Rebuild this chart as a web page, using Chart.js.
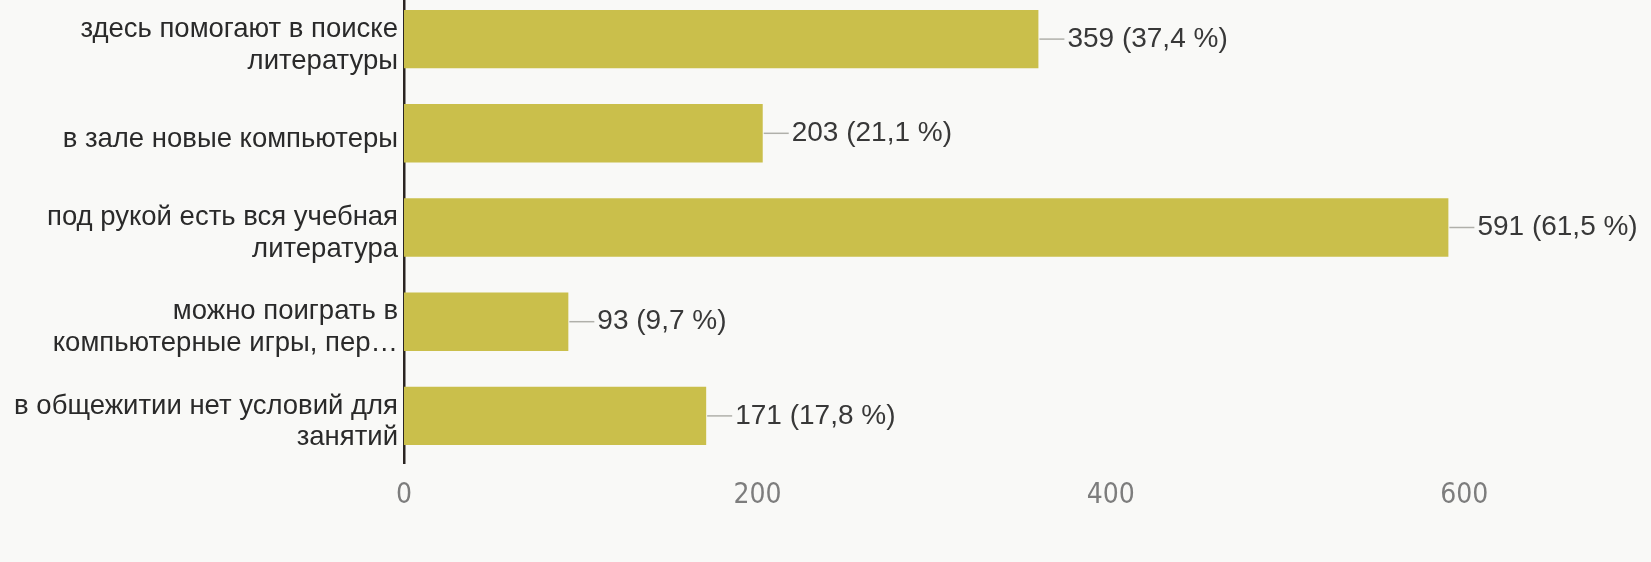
<!DOCTYPE html>
<html>
<head>
<meta charset="utf-8">
<script src="https://cdn.jsdelivr.net/npm/chart.js@4.4.1/dist/chart.umd.min.js"></script>
<style>
  html, body { margin: 0; padding: 0; background: #f9f9f7; overflow: hidden; }
  #wrap { position: absolute; left: 0; top: -8px; width: 1651px; height: 578px; }
</style>
</head>
<body>
<div id="wrap"><canvas id="c"></canvas></div>
<script>
const categories = [
  ["здесь помогают в поиске", "литературы"],
  ["в зале новые компьютеры"],
  ["под рукой есть вся учебная", "литература"],
  ["можно поиграть в", "компьютерные игры, пер…"],
  ["в общежитии нет условий для", "занятий"]
];
const counts = [359, 203, 591, 93, 171];
const percents = ["37,4", "21,1", "61,5", "9,7", "17,8"];
const xTicks = [0, 200, 400, 600];

const valueLabels = {
  id: 'valueLabels',
  afterDatasetsDraw(chart) {
    const ctx = chart.ctx;
    const meta = chart.getDatasetMeta(0);
    ctx.save();
    meta.data.forEach((bar, i) => {
      const x = bar.x, y = bar.y;
      ctx.strokeStyle = '#b0b0aa';
      ctx.lineWidth = 1.5;
      ctx.beginPath();
      ctx.moveTo(x + 1, y);
      ctx.lineTo(x + 26, y);
      ctx.stroke();
      ctx.fillStyle = '#383838';
      ctx.font = '28px "Liberation Sans", Arial, sans-serif';
      ctx.textAlign = 'left';
      ctx.textBaseline = 'middle';
      ctx.fillText(counts[i] + ' (' + percents[i] + ' %)', x + 29, y);
    });
    ctx.restore();
  }
};

new Chart(document.getElementById('c'), {
  type: 'bar',
  data: {
    labels: categories,
    datasets: [{
      data: counts,
      backgroundColor: '#cabf4b',
      borderWidth: 0,
      categoryPercentage: 0.62,
      barPercentage: 1.0
    }]
  },
  options: {
    indexAxis: 'y',
    responsive: true,
    maintainAspectRatio: false,
    animation: false,
    layout: { padding: { left: 0, right: 10, top: 0, bottom: 0 } },
    plugins: { legend: { display: false }, tooltip: { enabled: false } },
    scales: {
      x: {
        min: 0, max: 700,
        afterBuildTicks(scale) { scale.ticks = xTicks.map(v => ({ value: v })); },
        afterFit(scale) { scale.height = 107; scale.paddingLeft = 0; scale.paddingRight = 0; },
        grid: { display: false, drawTicks: false },
        border: { display: false },
        ticks: {
          padding: 16,
          color: '#7d7d7d',
          font: { family: '"Liberation Sans Narrow", "DejaVu Sans Condensed", "Roboto", sans-serif', size: 28 }
        }
      },
      y: {
        afterFit(scale) { scale.width = 404; scale.paddingTop = 0; scale.paddingBottom = 0; },
        grid: { display: false, drawTicks: false },
        border: { display: true, color: '#2b2522', width: 2.5 },
        ticks: {
          padding: 6,
          labelOffset: 6,
          color: '#2a2a2a',
          font: { family: '"Liberation Sans", Arial, sans-serif', size: 27.5, lineHeight: 1.16 }
        }
      }
    }
  },
  plugins: [valueLabels]
});
</script>
</body>
</html>
